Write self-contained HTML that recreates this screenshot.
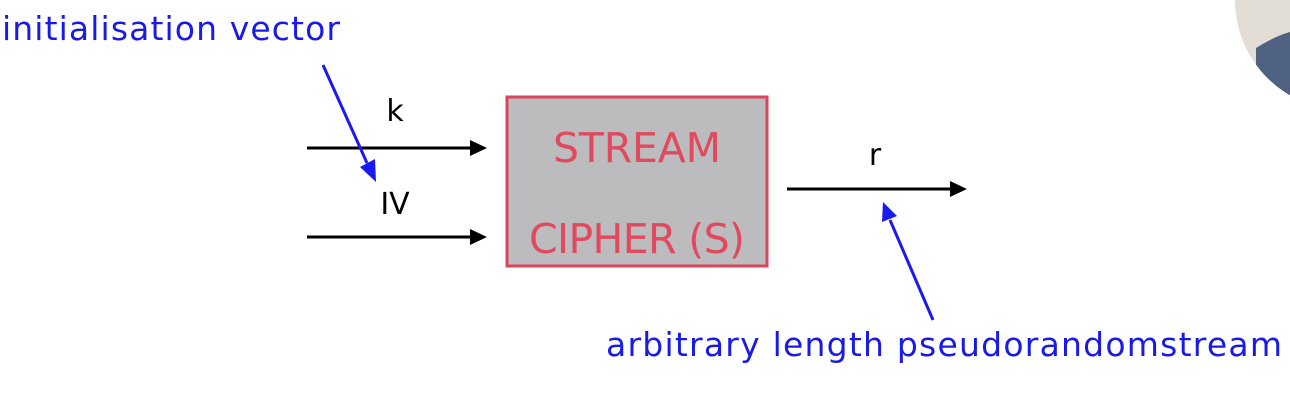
<!DOCTYPE html>
<html><head><style>
body{margin:0;width:1290px;height:406px;background:#fff;overflow:hidden;position:relative;font-family:"DejaVu Sans","Liberation Sans",sans-serif}
</style></head><body>
<svg width="1290" height="406" style="position:absolute;left:0;top:0">
<defs><clipPath id="c"><circle cx="1345" cy="0" r="110"/></clipPath></defs>
<g clip-path="url(#c)"><rect x="1230" y="-60" width="120" height="200" fill="#e2ded6"/>
<path d="M1256 48 Q1275 36 1290 32 L1290 140 L1256 140 Z" fill="#4f6282"/></g>
<rect x="507" y="97" width="260" height="169" fill="#bcbbbe" stroke="#d9455a" stroke-width="3"/>
<text x="637" y="162" font-size="41" fill="#e0495e" text-anchor="middle" textLength="168">STREAM</text>
<text x="637" y="253" font-size="41" fill="#e0495e" text-anchor="middle" textLength="216">CIPHER (S)</text>
<g stroke="#000" stroke-width="3"><line x1="307" y1="148" x2="472" y2="148"/><line x1="307" y1="237" x2="472" y2="237"/><line x1="787" y1="189" x2="952" y2="189"/></g>
<g fill="#000"><polygon points="470,140 487,148 470,156"/><polygon points="470,229 487,237 470,245"/><polygon points="950,181 967,189 950,197"/></g>
<line x1="323" y1="65" x2="367" y2="163" stroke="#1a1af0" stroke-width="3"/>
<polygon points="360,167 376,182 375,159" fill="#1a1af0"/>
<line x1="933" y1="320" x2="890" y2="220" stroke="#1a1af0" stroke-width="3"/>
<polygon points="883,202 882,222 897,216" fill="#1a1af0"/>
<text x="395" y="121" font-size="30" text-anchor="middle" fill="#000">k</text>
<text x="395" y="214" font-size="30" text-anchor="middle" fill="#000">IV</text>
<text x="875" y="165" font-size="30" text-anchor="middle" fill="#000">r</text>
<text x="2" y="40" font-size="33" fill="#1a1ae6" textLength="338">initialisation vector</text>
<text x="606" y="356" font-size="33" fill="#1a1ae6" textLength="676">arbitrary length pseudorandomstream</text>
</svg>
</body></html>
